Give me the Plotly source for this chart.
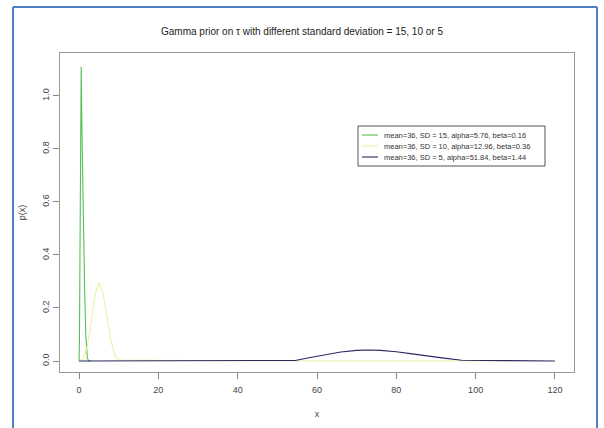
import plotly.graph_objects as go

# Data
green_x = [0.0, 0.1, 0.3, 0.55, 0.7, 1.0, 1.2, 1.4, 1.7, 2.1, 2.5, 3.0]
green_y = [0.0, 0.07, 0.55, 1.11, 0.9, 0.55, 0.4, 0.28, 0.1, 0.01, 0.0, 0.0]

yellow_x = [0, 1, 2, 3, 4, 5, 6, 7, 8, 9, 10, 46, 108.5]
yellow_y = [0.0, 0.01, 0.05, 0.14, 0.25, 0.295, 0.26, 0.17, 0.08, 0.02, 0.004, 0.0, 0.0]

blue_x = [0, 46, 54.5, 58, 62, 66, 70, 73, 76, 80, 84, 88, 92, 96.5, 108.5, 120]
blue_y = [0.0, 0.0015, 0.002, 0.012, 0.024, 0.034, 0.040, 0.0415, 0.040, 0.035,
          0.027, 0.018, 0.011, 0.003, 0.002, 0.0]

labels = ["mean=36, SD = 15, alpha=5.76, beta=0.16",
          "mean=36, SD = 10, alpha=12.96, beta=0.36",
          "mean=36, SD = 5, alpha=51.84, beta=1.44"]
colors = ["#55c155", "#eef0a8", "#2a2a62"]

x_ticks = [0, 20, 40, 60, 80, 100, 120]
y_ticks = [0.0, 0.2, 0.4, 0.6, 0.8, 1.0]
y_tick_text = ["0.0", "0.2", "0.4", "0.6", "0.8", "1.0"]

W, H = 604, 428
ML, MR, MT, MB = 60, 30, 53, 56
PW, PH = W - ML - MR, H - MT - MB


def px_x(p):
    return (p - ML) / PW


def px_y(p):
    return (H - MB - p) / PH


fig = go.Figure()
for xs, ys, lab, col in [(green_x, green_y, labels[0], colors[0]),
                         (yellow_x, yellow_y, labels[1], colors[1]),
                         (blue_x, blue_y, labels[2], colors[2])]:
    fig.add_trace(go.Scatter(x=xs, y=ys, mode="lines", name=lab,
                             line=dict(color=col, width=1.1), showlegend=False))

font_family = "Liberation Sans, Arial, sans-serif"

fig.update_layout(
    width=W, height=H,
    margin=dict(l=ML, r=MR, t=MT, b=MB),
    paper_bgcolor="white", plot_bgcolor="white",
    showlegend=False,
    font=dict(family=font_family, size=9, color="#333333"),
)

fig.update_xaxes(range=[-4.8, 124.8], tickvals=x_ticks, ticks="outside", ticklen=6,
                 tickcolor="#888888", showgrid=False, zeroline=False,
                 showline=True, linecolor="#999999", mirror=True, linewidth=1,
                 ticklabelstandoff=3,
                 tickfont=dict(size=9, color="#444444"),
                 title=dict(text="x", standoff=16, font=dict(size=9, color="#444444")))
fig.update_yaxes(range=[-0.0415, 1.162], tickvals=y_ticks, ticktext=y_tick_text,
                 ticks="outside", ticklen=6, tickangle=-90,
                 tickcolor="#888888", showgrid=False, zeroline=False,
                 showline=True, linecolor="#999999", mirror=True, linewidth=1,
                 tickfont=dict(size=9, color="#444444"),
                 title=dict(text="p(x)", standoff=14, font=dict(size=9, color="#444444")))

fig.add_annotation(text="Gamma prior on \u03c4 with different standard deviation = 15, 10 or 5",
                   xref="paper", yref="paper", x=px_x(302), y=px_y(31),
                   xanchor="center", yanchor="middle", showarrow=False,
                   font=dict(family=font_family, size=10, color="#222222"))

# Legend drawn R-style (box, short line samples, labels)
fig.add_shape(type="rect", xref="paper", yref="paper",
              x0=px_x(358), x1=px_x(545), y0=px_y(126), y1=px_y(166),
              line=dict(color="#555555", width=1), fillcolor="white", layer="above")
row_y = [135, 146, 157]
for lab, col, ry in zip(labels, colors, row_y):
    fig.add_shape(type="line", xref="paper", yref="paper",
                  x0=px_x(362), x1=px_x(378), y0=px_y(ry), y1=px_y(ry),
                  line=dict(color=col, width=1.1), layer="above")
    fig.add_annotation(text=lab, xref="paper", yref="paper", x=px_x(382), y=px_y(ry),
                       xanchor="left", yanchor="middle", showarrow=False,
                       font=dict(family=font_family, size=7.5, color="#333333"))

# Blue screenshot frame (left, top, right edges)
frame = dict(color="#4f7fc4", width=2)
fig.add_shape(type="line", xref="paper", yref="paper", x0=px_x(13), x1=px_x(13), y0=px_y(7), y1=px_y(440), line=frame)
fig.add_shape(type="line", xref="paper", yref="paper", x0=px_x(13), x1=px_x(597), y0=px_y(7), y1=px_y(7), line=frame)
fig.add_shape(type="line", xref="paper", yref="paper", x0=px_x(597), x1=px_x(597), y0=px_y(7), y1=px_y(440), line=frame)

fig.write_html("out.html", config={"displayModeBar": False},
               post_script="document.body.style.margin='0';document.body.style.overflow='hidden';")
